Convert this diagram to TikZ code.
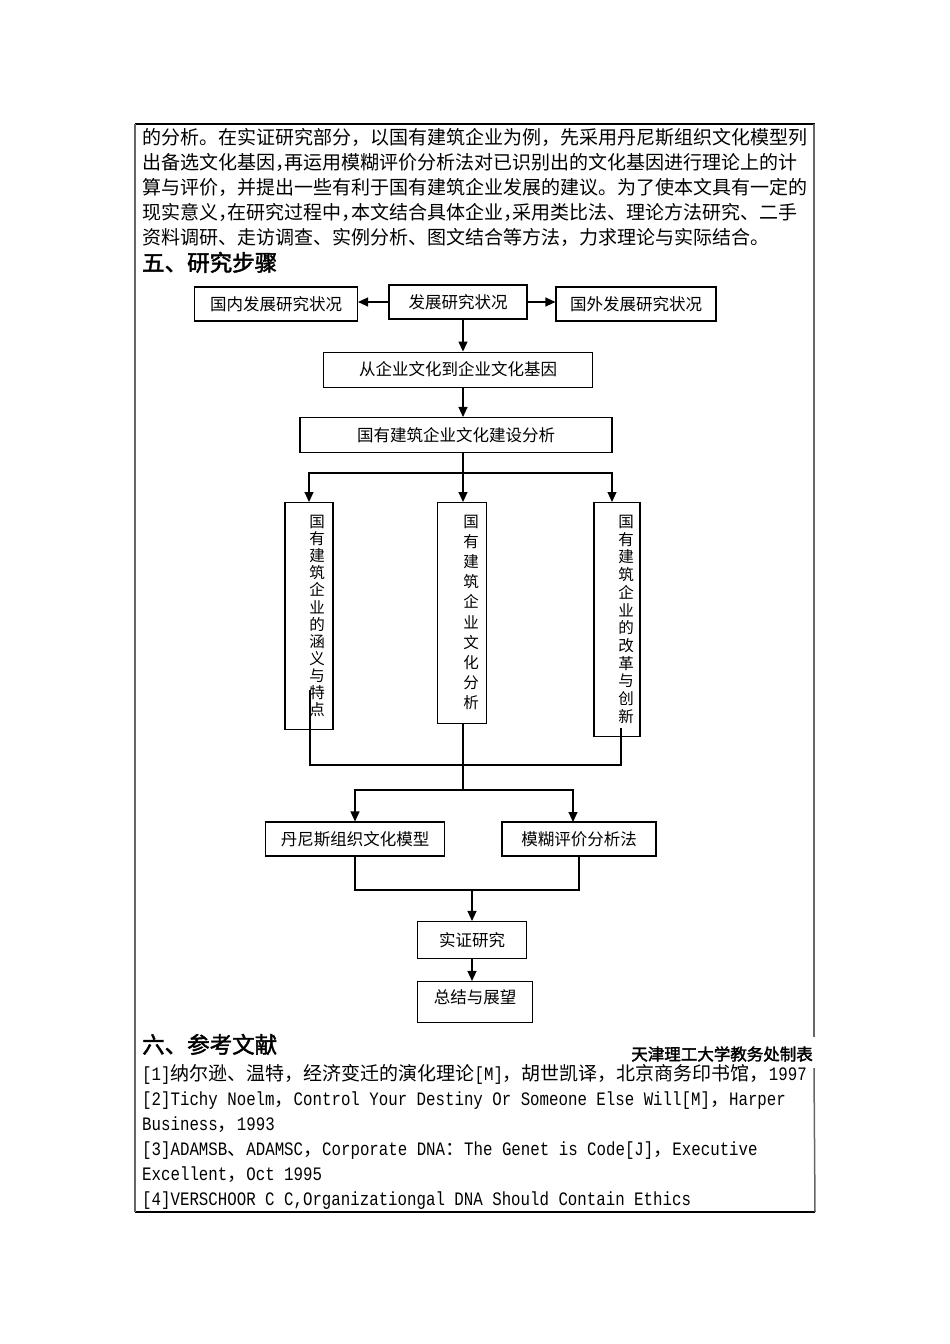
\documentclass[tikz,border=0pt]{standalone}
\usepackage{fontspec}
\setmainfont{Noto Sans CJK SC}
\newfontfamily\monofont[FakeStretch=0.83]{Liberation Mono}
\newfontfamily\boldcjk[FakeBold=2]{Noto Sans CJK SC}
\usetikzlibrary{arrows.meta, positioning, calc}
\XeTeXlinebreaklocale "zh"
\XeTeXlinebreakskip=0pt plus 2pt
\newcommand{\en}[1]{{\monofont #1}}
\newcommand{\hc}{\kern-0.5em}

\begin{document}
\begin{tikzpicture} [x=1pt, y=-1pt,
            box/.style = {draw, line width=1.1pt, minimum height=34pt,
                inner sep=0pt, font=\fontsize{16.5}{19}\selectfont},
            vbox/.style = {draw, line width=1.1pt, minimum width=48pt,
                anchor=north},
            vtext/.style = {anchor=north, align=center, inner sep=0pt},
            arr/.style = {line width=1.1pt, -{Triangle[length=10pt, width=9pt]}},
            link/.style = {line width=1.1pt},
            txt/.style = {anchor=base west, inner sep=0pt,
                font=\fontsize{19}{25}\selectfont}]

            \useasboundingbox (0,0) rectangle (950,1344);

            % Table frame
            \draw [line width=1.2pt] (135,124) -- (815,124);
            \draw [line width=1.2pt] (135,1212) -- (815,1212);
            \draw [line width=1.5pt, black!60] (135,124) -- (135,1212);
            \draw [line width=1.5pt, black!60] (814,124) -- (814,1037);
            \draw [line width=1.5pt, black!60] (814,1068) -- (815,1212);

            % Paragraph
            \node (p1) [txt] at (142,144) {\hbox to 665pt{的分析。在实证研究部分，以国有建筑企业为例，先采用丹尼斯组织文化模型列}};
            \node (p2) [txt] at (142,169) {\hbox to 665pt{出备选文化基因，\hc 再运用模糊评价分析法对已识别出的文化基因进行理论上的计}};
            \node (p3) [txt] at (142,194) {\hbox to 665pt{算与评价，并提出一些有利于国有建筑企业发展的建议。为了使本文具有一定的}};
            \node (p4) [txt] at (142,219) {\hbox to 665pt{现实意义，\hc 在研究过程中，\hc 本文结合具体企业，\hc 采用类比法、理论方法研究、二手}};
            \node (p5) [txt] at (142,244) {资料调研、走访调查、实例分析、图文结合等方法，力求理论与实际结合。};

            % Heading five
            \node (h5) [txt, font=\fontsize{22.5}{26}\boldcjk] at (142,271) {五、研究步骤};

            % Box dev
            \node (dev) [box, minimum width=138pt] at (458,302) {发展研究状况};

            % Box dom
            \node (dom) [box, minimum width=163pt] at (276,304) {国内发展研究状况};

            % Box abr
            \node (abr) [box, minimum width=160pt] at (636,304) {国外发展研究状况};

            % Box gene
            \node (gene) [box, minimum width=269pt, minimum height=35pt,
                below = 32pt of dev.south, anchor=north] {从企业文化到企业文化基因};

            % Box ana
            \node (ana) [box, minimum width=312pt, minimum height=35pt] at (456,435) {国有建筑企业文化建设分析};

            % Vertical boxes
            \node (v1) [vbox, minimum height=227pt] at (309,502) {};
            \node (v2) [vbox, minimum height=221pt, minimum width=49pt] at (462,502) {};
            \node (v3) [vbox, minimum height=234pt, minimum width=46pt] at (617,502) {};

            \node (t1) [vtext, font=\fontsize{15.5}{17.1}\selectfont] at (317,515)
                {国\\有\\建\\筑\\企\\业\\的\\涵\\义\\与\\特\\点};
            \node (t2) [vtext, font=\fontsize{15.5}{20.1}\selectfont] at (471,515)
                {国\\有\\建\\筑\\企\\业\\文\\化\\分\\析};
            \node (t3) [vtext, font=\fontsize{15.5}{17.7}\selectfont] at (626,515)
                {国\\有\\建\\筑\\企\\业\\的\\改\\革\\与\\创\\新};

            % Box dns
            \node (dns) [box, minimum width=179pt] at (355,839) {丹尼斯组织文化模型};

            % Box fuzzy
            \node (fuzzy) [box, minimum width=154pt] at (579,839) {模糊评价分析法};

            % Box emp
            \node (emp) [box, minimum width=109pt, minimum height=37pt] at (472,940) {实证研究};

            % Box sum
            \node (sum) [box, minimum width=115pt, minimum height=41pt,
                text depth=10pt] at (475,1002) {总结与展望};

            % Helper points
            \coordinate (axis) at (463,0);
            \coordinate (fork) at (463,473);
            \coordinate (v3in) at (612,502);
            \coordinate (out1) at (310,690);
            \coordinate (out3) at (621,728);
            \coordinate (join) at (463,765);
            \coordinate (fork2) at (463,790);
            \coordinate (fin) at (573,822);
            \coordinate (merge) at (472,890);

            % Arrows
            \draw [arr] (dev.west) -- (dev.west -| dom.east);
            \draw [arr] (dev.east) -- (dev.east -| abr.west);
            \draw [arr] (dev.south -| axis) -- (gene.north -| axis);
            \draw [arr] (gene.south -| axis) -- (ana.north -| axis);

            \draw [link] (ana.south -| axis) -- (fork);
            \draw [arr] (fork) -| (v1.north);
            \draw [arr] (fork) -- (fork |- v2.north);
            \draw [arr] (fork) -| (v3in);

            \draw [link] (out1) |- (join) -| (out3);
            \draw [link] (v2.south -| axis) -- (fork2);
            \draw [arr] (fork2) -| (dns.north);
            \draw [arr] (fork2) -| (fin);

            \draw [link] (dns.south) |- (merge) -| (fuzzy.south);
            \draw [arr] (merge) -- (emp.north);
            \draw [arr] (emp.south) -- (emp.south |- sum.north);

            % Heading six
            \node (h6) [txt, font=\fontsize{22.5}{26}\boldcjk] at (142,1053) {六、参考文献};
            \node (tab) [anchor=east, inner sep=0pt, font=\fontsize{16.5}{20}\boldcjk] at (813,1054) {天津理工大学教务处制表};

            % References
            \node (r1) [txt] at (142,1080) {\en{[1]}纳尔逊、温特，经济变迁的演化理论\en{[M]}，胡世凯译，北京商务印书馆，\en{1997}};
            \node (r2) [txt] at (142,1105) {\en{[2]Tichy Noelm}，\en{Control Your Destiny Or Someone Else Will[M]}，\en{Harper}};
            \node (r3) [txt] at (142,1130) {\en{Business}，\en{1993}};
            \node (r4) [txt] at (142,1155) {\en{[3]ADAMSB}、\en{ADAMSC}，\en{Corporate DNA}：\en{The Genet is Code[J]}，\en{Executive}};
            \node (r5) [txt] at (142,1180) {\en{Excellent}，\en{Oct 1995}};
            \node (r6) [txt] at (142,1205) {\en{[4]VERSCHOOR C C,Organizationgal DNA Should Contain Ethics}};
        \end{tikzpicture}
\end{document}
